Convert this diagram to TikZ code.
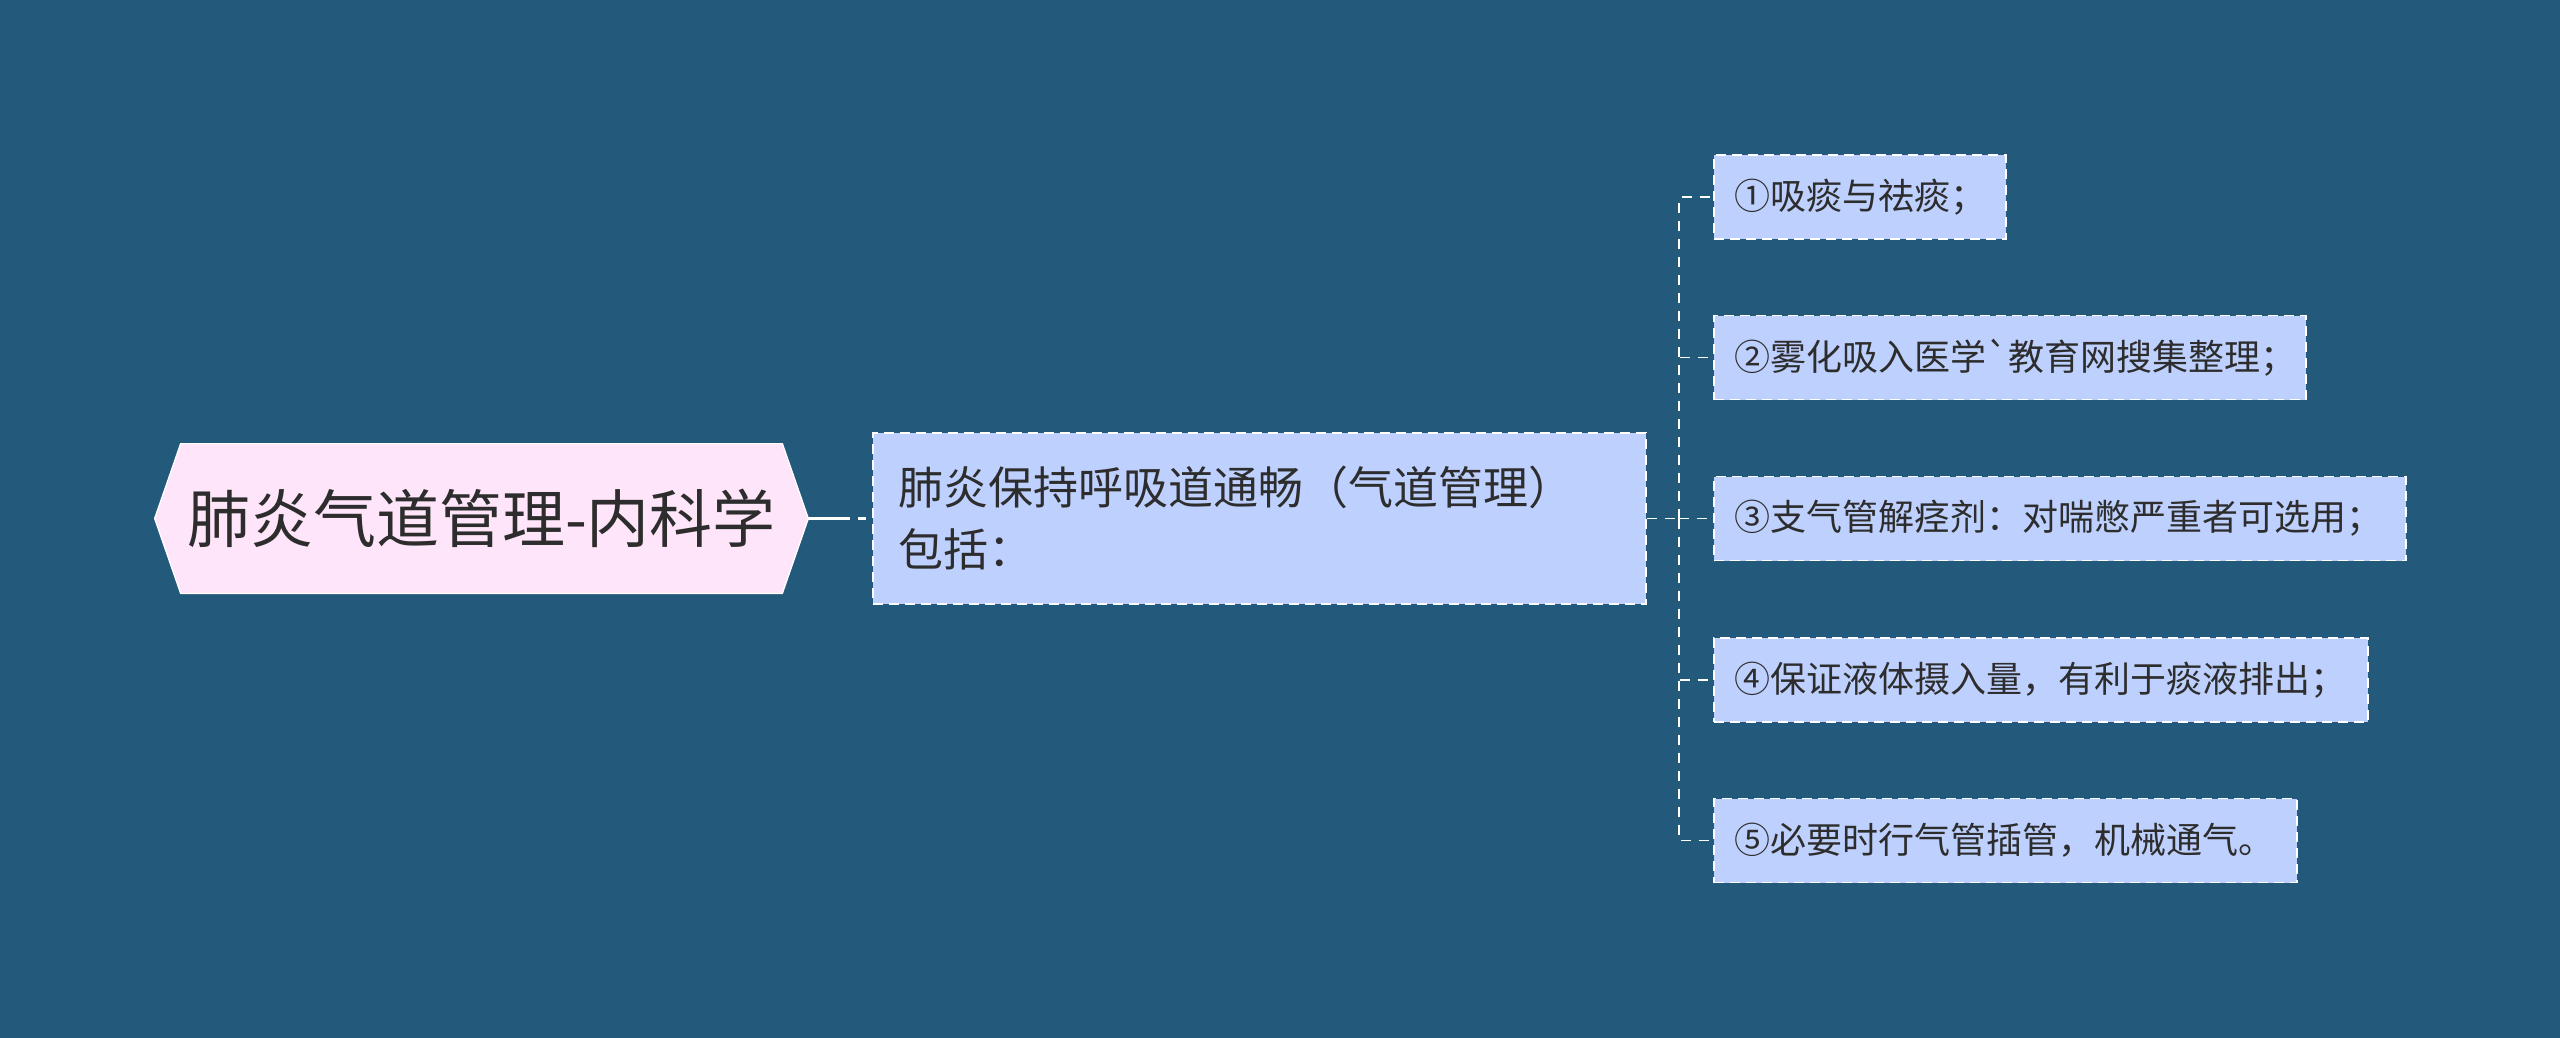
\documentclass[tikz,border=0pt]{standalone}
\usepackage{fontspec}
\newfontfamily\cjk{Noto Sans CJK SC}
\usetikzlibrary{backgrounds}
\definecolor{bgblue}{RGB}{35,89,123}
\definecolor{rootfill}{RGB}{255,229,250}
\definecolor{boxfill}{RGB}{190,208,254}
\definecolor{txt}{RGB}{45,45,45}
\tikzset{
 rootnode/.style={minimum width=326.5pt, minimum height=74.5pt, inner sep=0pt, font=\cjk\fontsize{31.5}{36}\selectfont, text=txt},
 midnode/.style={draw=white, dash pattern=on 5pt off 3pt, line width=0.9pt, fill=boxfill, minimum height=85.5pt, text width=361.5pt, inner xsep=12.5pt, inner ysep=0pt, align=left, font=\cjk\fontsize{22.5}{31}\selectfont, text=txt},
 leafnode/.style={draw=white, dash pattern=on 5pt off 3pt, line width=0.9pt, fill=boxfill, minimum height=42pt, inner xsep=10.5pt, inner ysep=0pt, align=left, anchor=west, font=\cjk\fontsize{18}{22}\selectfont, text=txt},
 rootline/.style={white, line width=1.5pt, dash pattern=on 21pt off 4pt on 4pt off 20pt},
 leafline/.style={white, line width=0.9pt, dash pattern=on 5pt off 4pt},
}
\begin{document}
\begin{tikzpicture}[x=0.5pt, y=-0.5pt]
\useasboundingbox (0,0) rectangle (2560,1038);
\begin{scope}[on background layer]
 \fill[bgblue] (0,0) rectangle (2560,1038);
\end{scope}
\node[rootnode] (root) at (481.5,518.5) {肺炎气道管理-内科学};
\begin{scope}[on background layer]
 \filldraw[fill=rootfill, draw=white, line width=0.6pt] (root.west) -- ([xshift=13pt]root.north west) -- ([xshift=-13pt]root.north east) -- (root.east) -- ([xshift=-13pt]root.south east) -- ([xshift=13pt]root.south west) -- cycle;
\end{scope}
\node[midnode] (mid) at (1259.5,518.5) {肺炎保持呼吸道通畅（气道管理）\\包括：};
\node[leafnode, text width=125pt] (l1) at (1713,197) {①吸痰与祛痰；};
\node[leafnode, text width=275pt] (l2) at (1713,357.5) {②雾化吸入医学`教育网搜集整理；};
\node[leafnode, text width=325pt] (l3) at (1713,518.5) {③支气管解痉剂：对喘憋严重者可选用；};
\node[leafnode, text width=306pt] (l4) at (1713,680) {④保证液体摄入量，有利于痰液排出；};
\node[leafnode, text width=270.5pt] (l5) at (1713,840.5) {⑤必要时行气管插管，机械通气。};
\coordinate (sp) at (1679,518.5);
\draw[rootline] (root.east) -- (mid.west);
\draw[leafline] (mid.east) -- (sp);
\foreach \n in {l1,l2,l3,l4,l5} \draw[leafline] (sp) |- (\n.west);
\end{tikzpicture}
\end{document}
